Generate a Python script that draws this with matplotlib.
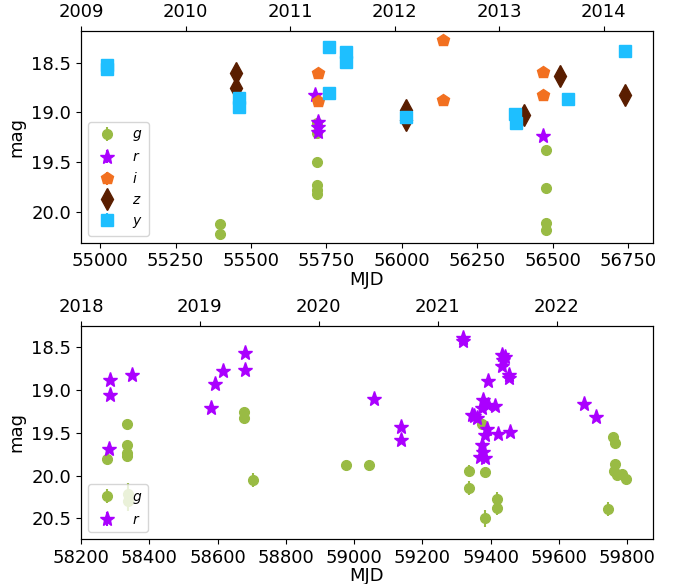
import matplotlib
matplotlib.use("Agg")
import matplotlib.pyplot as plt
from matplotlib.ticker import MultipleLocator, FormatStrFormatter

# ---------------- Top panel data (2009-2014) ----------------
top_g_mjd = [55397, 55397, 55718, 55718, 55718, 55718, 55718, 55718, 56478, 56478, 56477, 56477]
top_g_mag = [20.12, 20.22, 19.11, 19.21, 19.50, 19.73, 19.78, 19.82, 19.38, 19.76, 20.11, 20.18]
top_g_err = [0.02, 0.02, 0.02, 0.02, 0.02, 0.02, 0.02, 0.02, 0.02, 0.02, 0.02, 0.02]

top_r_mjd = [55712, 55723, 55723, 55723, 56467]
top_r_mag = [18.83, 19.10, 19.15, 19.20, 19.24]
top_r_err = [0.02, 0.02, 0.02, 0.02, 0.02]

top_i_mjd = [55723, 55723, 56136, 56136, 56467, 56467]
top_i_mag = [18.61, 18.89, 18.27, 18.88, 18.59, 18.83]
top_i_err = [0.01, 0.01, 0.01, 0.01, 0.01, 0.01]

top_z_mjd = [55450, 55450, 56014, 56014, 56405, 56525, 56741]
top_z_mag = [18.61, 18.76, 18.98, 19.08, 19.03, 18.64, 18.83]
top_z_err = [0.02, 0.02, 0.02, 0.02, 0.02, 0.02, 0.02]

top_y_mjd = [55021, 55021, 55459, 55459, 55757, 55757, 55814, 55814, 56014, 56375, 56378, 56551, 56741]
top_y_mag = [18.52, 18.56, 18.86, 18.95, 18.34, 18.81, 18.39, 18.49, 19.05, 19.02, 19.11, 18.87, 18.38]
top_y_err = [0.02] * 13

# ---------------- Bottom panel data (2018-2022) ----------------
bot_g_mjd = [58275, 58334, 58334, 58334, 58335, 58339, 58339, 58678, 58678, 58703,
             58976, 59042, 59335, 59335, 59374, 59382, 59382, 59418, 59418, 59742,
             59758, 59763, 59765, 59760, 59770, 59784, 59797]
bot_g_mag = [19.81, 19.39, 19.64, 19.73, 19.77, 20.21, 20.29, 19.25, 19.33, 20.05,
             19.88, 19.88, 19.94, 20.14, 19.40, 19.96, 20.50, 20.27, 20.38, 20.39,
             19.55, 19.62, 19.86, 19.94, 19.99, 19.98, 20.04]
bot_g_err = [0.04, 0.03, 0.05, 0.05, 0.05, 0.12, 0.12, 0.03, 0.03, 0.08,
             0.06, 0.06, 0.06, 0.08, 0.06, 0.06, 0.10, 0.08, 0.08, 0.08,
             0.03, 0.03, 0.05, 0.05, 0.05, 0.05, 0.05]

bot_r_mjd = [58285, 58285, 58282, 58348, 58581, 58593, 58617, 58680, 58680, 59058,
             59138, 59138, 59318, 59320, 59432, 59442, 59437, 59432, 59453, 59453,
             59393, 59378, 59393, 59413, 59374, 59345, 59360, 59352, 59388, 59383,
             59421, 59457, 59374, 59378, 59383, 59369, 59672, 59709]
bot_r_mag = [18.88, 19.06, 19.69, 18.82, 19.21, 18.93, 18.78, 18.56, 18.77, 19.10,
             19.43, 19.58, 18.39, 18.42, 18.59, 18.61, 18.65, 18.72, 18.82, 18.86,
             18.89, 19.12, 19.17, 19.19, 19.21, 19.29, 19.33, 19.30, 19.45, 19.53,
             19.51, 19.49, 19.64, 19.72, 19.79, 19.78, 19.16, 19.31]
bot_r_err = [0.03] * len(bot_r_mjd)

bands = ['g', 'r', 'i', 'z', 'y']
colors = {'g': '#99bb44', 'r': '#aa00ff', 'i': '#f27020', 'z': '#5a1e00', 'y': '#1ebfff'}
markers = {'g': 'o', 'r': '*', 'i': 'p', 'z': 'd', 'y': 's'}
msizes = {'g': 7, 'r': 11, 'i': 9, 'z': 11, 'y': 9}

FS = 13
fig = plt.figure(figsize=(6.74, 5.84), dpi=100)
ax1 = fig.add_axes([81/674, (584-242.7)/584, 572/674, 212/584])
ax2 = fig.add_axes([81/674, 45/584, 572/674, 213/584])

top_data = {'g': (top_g_mjd, top_g_mag, top_g_err), 'r': (top_r_mjd, top_r_mag, top_r_err),
            'i': (top_i_mjd, top_i_mag, top_i_err), 'z': (top_z_mjd, top_z_mag, top_z_err),
            'y': (top_y_mjd, top_y_mag, top_y_err)}
bot_data = {'g': (bot_g_mjd, bot_g_mag, bot_g_err), 'r': (bot_r_mjd, bot_r_mag, bot_r_err)}

def draw(ax, data):
    for b in bands:
        if b not in data:
            continue
        x, y, e = data[b]
        ax.errorbar(x, y, yerr=e, fmt=markers[b], color=colors[b], ms=msizes[b],
                    elinewidth=1.5, capsize=0, label=f'${b}$')
    ax.invert_yaxis()
    ax.set_xlabel('MJD', fontsize=FS, labelpad=0.5)
    ax.set_ylabel('mag', fontsize=FS)
    ax.tick_params(labelsize=FS)
    ax.legend(loc='lower left', fontsize=10)

draw(ax1, top_data)
ax1.set_xlim(54936, 56833)
ax1.set_ylim(20.31, 18.18)
ax1.xaxis.set_major_locator(MultipleLocator(250))

draw(ax2, bot_data)
ax2.set_xlim(58200, 59875)
ax2.set_ylim(20.74, 18.25)
ax2.xaxis.set_major_locator(MultipleLocator(200))

for ax, lims in ((ax1, (2009.0, 2014.47)), (ax2, (2018.0, 2022.81))):
    tw = ax.twiny()
    tw.set_xlim(*lims)
    tw.xaxis.set_major_locator(MultipleLocator(1))
    tw.xaxis.set_major_formatter(FormatStrFormatter('%d'))
    tw.tick_params(labelsize=FS)

fig.savefig('out.png', dpi=100)
